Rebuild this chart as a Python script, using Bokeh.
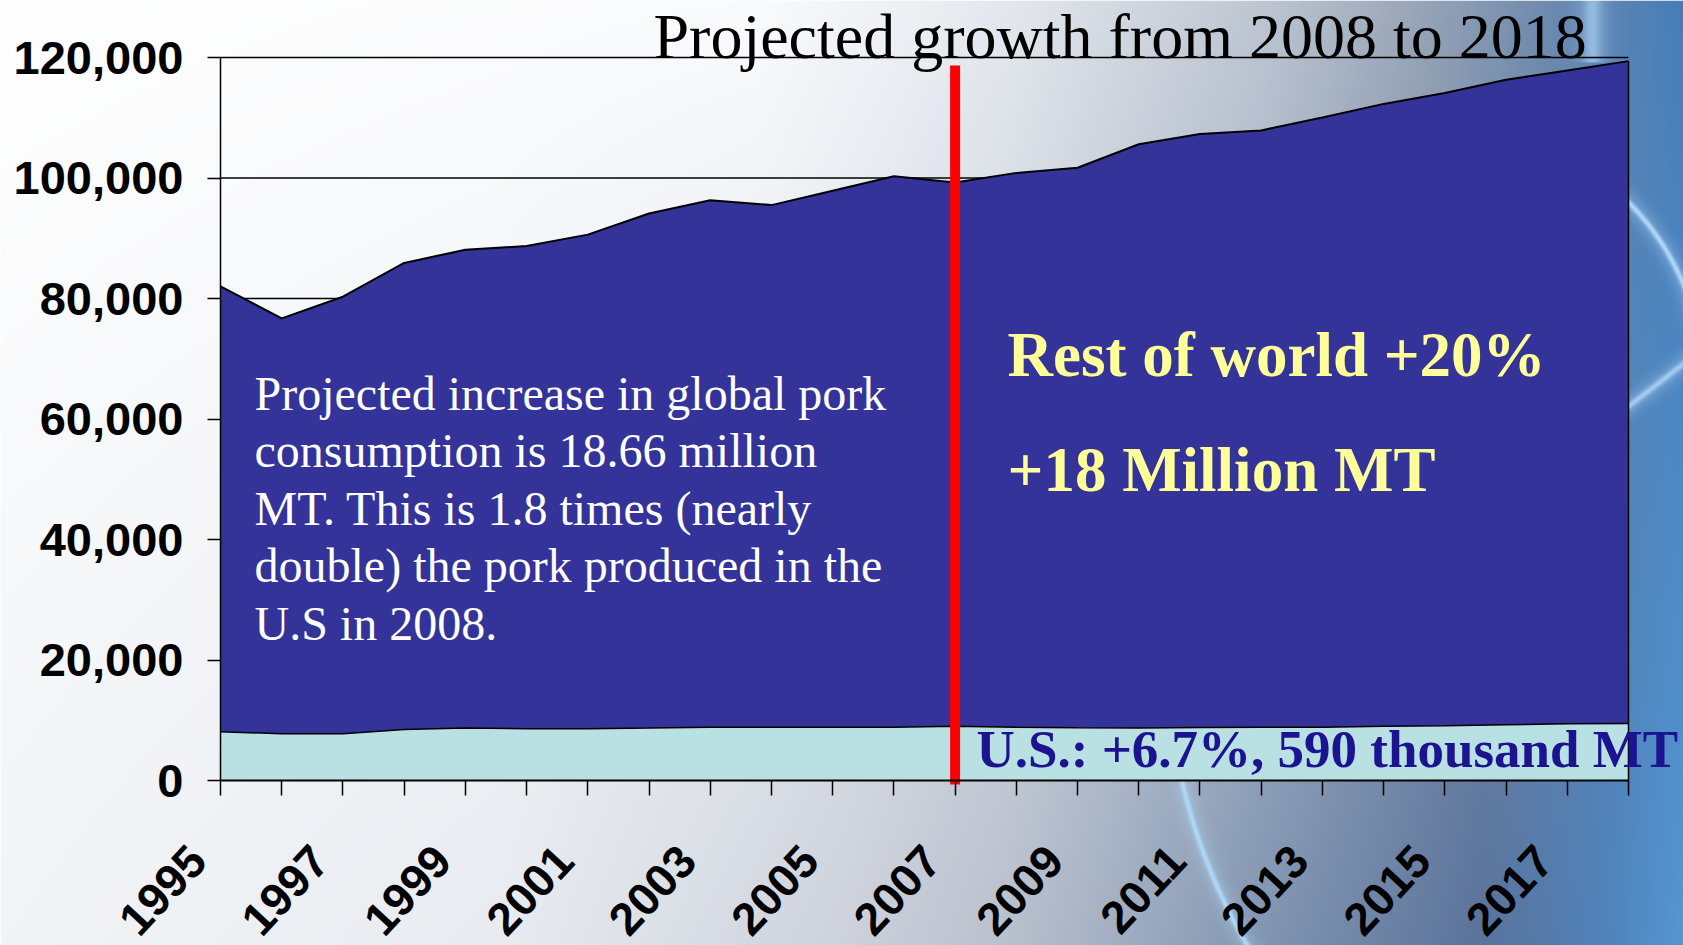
import numpy as np
from bokeh.plotting import figure
from bokeh.models import (Range1d, LinearAxis, FixedTicker, NumeralTickFormatter,
                          CustomJSTickFormatter, Label)
from bokeh.embed import file_html
from bokeh.resources import INLINE

# ---------------- data ----------------
years = [1995, 1996, 1997, 1998, 1999, 2000, 2001, 2002, 2003, 2004, 2005, 2006,
         2007, 2008, 2009, 2010, 2011, 2012, 2013, 2014, 2015, 2016, 2017, 2018]
us_pork = [8100, 7750, 7750, 8450, 8700, 8600, 8600, 8700, 8850, 8850, 8850, 8850,
           9000, 8850, 8750, 8700, 8800, 8850, 8850, 9000, 9100, 9250, 9400, 9440]
world_pork = [82000, 76700, 80300, 85900, 88100, 88700, 90600, 94100, 96300, 95500, 97900, 100300,
              99250, 100850, 101700, 105600, 107300, 107900, 110050, 112300, 114100, 116300, 117850, 119400]
y_ticks = [0, 20000, 40000, 60000, 80000, 100000, 120000]
x_label_years = [1995, 1997, 1999, 2001, 2003, 2005, 2007, 2009, 2011, 2013, 2015, 2017]
projection_year = 2007

title_text = "Projected growth from 2008 to 2018"
note_lines = ["Projected increase in global pork",
              "consumption is 18.66 million",
              "MT. This is 1.8 times (nearly",
              "double) the pork produced in the",
              "U.S in 2008."]
rest_lines = ["Rest of world +20%", "+18 Million MT"]
us_note = "U.S.: +6.7%, 590 thousand MT"

# ---------------- geometry (page pixels) ----------------
W, H = 1683, 945
OFF = 0
PX_FIRST, PX_LAST = 220.0, 1628.0
PY_ZERO, PY_MAX = 780.0, 57.0
ppx = (PX_LAST - PX_FIRST) / (years[-1] - years[0])
ppy = (PY_ZERO - PY_MAX) / y_ticks[-1]
x_start = years[0] - (PX_FIRST - OFF) / ppx
x_end = x_start + W / ppx
y_start = -((OFF + H) - PY_ZERO) / ppy
y_end = y_start + H / ppy


def DX(px):
    return x_start + (px - OFF) / ppx


def DY(py):
    return y_start + ((OFF + H) - py) / ppy


def BASE(py, size):
    # empirical baseline correction for Label text placement
    return DY(py - 0.32 * size)


p = figure(width=W, height=H, x_range=Range1d(x_start, x_end), y_range=Range1d(y_start, y_end),
           output_backend="svg", toolbar_location=None, min_border=0, tools="",
           x_axis_location=None, y_axis_location=None)
p.outline_line_color = None
p.background_fill_color = "white"
p.border_fill_color = "white"
p.grid.grid_line_color = None

# label range shifted so rotated year labels end left of their ticks
LABEL_SHIFT = 23.0 / ppx
p.extra_x_ranges = {"labels": Range1d(x_start + LABEL_SHIFT, x_end + LABEL_SHIFT)}

# ---------------- background gradient ----------------
nx, ny = 842, 473
gx = OFF + (np.arange(nx) + 0.5) * W / nx
gy = OFF + (np.arange(ny) + 0.5) * H / ny
GX, GY = np.meshgrid(gx, gy)
u = GX / 1683.0
v = GY / 945.0
top_stops = [(0.0, (255, 255, 255)), (0.45, (250, 251, 253)), (0.60, (228, 232, 238)),
             (0.75, (190, 198, 210)), (0.85, (150, 163, 182)), (0.92, (110, 138, 175)),
             (1.0, (70, 125, 185))]
bottom_stops = [(0.0, (242, 244, 247)), (0.30, (232, 235, 240)), (0.50, (205, 210, 220)),
                (0.60, (185, 192, 205)), (0.75, (130, 150, 178)), (0.88, (90, 115, 155)),
                (0.95, (80, 130, 185)), (1.0, (85, 150, 210))]


def ramp(t, stops):
    pos = [s[0] for s in stops]
    return np.stack([np.interp(t, pos, [s[1][k] for s in stops]) for k in range(3)], axis=-1)


rgb = ramp(u, top_stops) * (1 - v[..., None]) + ramp(u, bottom_stops) * v[..., None]
glow = np.array([175, 215, 248], float)


def add_glow(rgb, d, core, halo, mask, strength=0.85):
    a = (strength * np.exp(-(d / core) ** 2) + 0.3 * np.exp(-(d / halo) ** 2)) * mask
    a = np.clip(a, 0, 1)[..., None]
    return rgb * (1 - a) + glow * a


d1 = np.abs(np.hypot(GX - 1750, GY - 650) - 583)
rgb = add_glow(rgb, d1, 2.5, 10, (GY > 640))
d2 = np.abs(np.hypot(GX - 1450, GY - 380) - 252)
rgb = add_glow(rgb, d2, 2.5, 10, (GX > 1600) & (GY < 380))
d3 = np.abs((GX - 1630) * (-41) - (GY - 404) * 53) / 67.0
rgb = add_glow(rgb, d3, 3, 10, (GX > 1600), 0.6)
d4 = np.abs(GX - 1592)
rgb = add_glow(rgb, d4, 8, 16, (GY < 62), 0.35)

rgb8 = np.clip(rgb, 0, 255).astype(np.uint8)
img = np.empty((ny, nx), dtype=np.uint32)
view = img.view(dtype=np.uint8).reshape((ny, nx, 4))
view[..., :3] = rgb8
view[..., 3] = 255
img = np.ascontiguousarray(img[::-1])
p.image_rgba(image=[img], x=x_start, y=y_start, dw=x_end - x_start, dh=y_end - y_start, level="image")

# ---------------- grid lines ----------------
p.segment(x0=years[0], y0=y_ticks[1:], x1=years[-1], y1=y_ticks[1:],
          line_color="black", line_width=1.5)

# ---------------- stacked areas ----------------
p.varea(x=years, y1=0, y2=us_pork, fill_color="#b9e1e4")
p.varea(x=years, y1=us_pork, y2=world_pork, fill_color="#333399")
p.line(years, world_pork, line_color="black", line_width=2)
p.line(years, us_pork, line_color="black", line_width=1.5)
p.segment(x0=years[-1], y0=0, x1=years[-1], y1=world_pork[-1], line_color="black", line_width=1.5)

# red projection marker
p.segment(x0=projection_year, y0=DY(784), x1=projection_year, y1=DY(65),
          line_color="#ff0000", line_width=10)

# ---------------- texts ----------------
p.add_layout(Label(x=DX(653), y=BASE(56, 64), text=title_text, text_font="Liberation Serif",
                   text_font_size="64px", text_color="black", text_baseline="alphabetic",
                   text_align="left"))
for i, line in enumerate(note_lines):
    p.add_layout(Label(x=DX(254), y=BASE(408 + i * 57.5, 48), text=line, text_font="Liberation Serif",
                       text_font_size="48px", text_color="white", text_baseline="alphabetic",
                       text_align="left"))
for i, line in enumerate(rest_lines):
    p.add_layout(Label(x=DX(1007), y=BASE(375 + i * 115, 63), text=line, text_font="Liberation Serif",
                       text_font_size="63px", text_font_style="bold", text_color="#ffff99",
                       text_baseline="alphabetic", text_align="left"))
p.add_layout(Label(x=DX(976), y=BASE(765, 53), text=us_note, text_font="Liberation Serif",
                   text_font_size="53px", text_font_style="bold", text_color="#1b1390",
                   text_baseline="alphabetic", text_align="left"))

# ---------------- axes ----------------
yax = LinearAxis(fixed_location=years[0], bounds=(y_ticks[0], y_ticks[-1]),
                 ticker=FixedTicker(ticks=y_ticks), formatter=NumeralTickFormatter(format="0,0"))
yax.axis_line_color = "black"
yax.axis_line_width = 1.5
yax.major_tick_line_color = "black"
yax.major_tick_line_width = 1.5
yax.major_tick_out = 13
yax.major_tick_in = 0
yax.minor_tick_line_color = None
yax.major_label_standoff = 24
yax.major_label_text_font = "Liberation Sans"
yax.major_label_text_font_style = "bold"
yax.major_label_text_font_size = "47px"
yax.major_label_text_color = "black"
p.add_layout(yax, "left")

xax = LinearAxis(fixed_location=0, bounds=(years[0], years[-1]),
                 ticker=FixedTicker(ticks=years), formatter=CustomJSTickFormatter(code="return ''"))
xax.axis_line_color = "black"
xax.axis_line_width = 2
xax.major_tick_line_color = "black"
xax.major_tick_line_width = 1.5
xax.major_tick_out = 15
xax.major_tick_in = 0
xax.minor_tick_line_color = None
p.add_layout(xax, "below")

xlab = LinearAxis(fixed_location=0, x_range_name="labels", ticker=FixedTicker(ticks=x_label_years))
xlab.axis_line_color = None
xlab.major_tick_line_color = None
xlab.minor_tick_line_color = None
xlab.major_tick_out = 0
xlab.major_tick_in = 0
xlab.major_label_orientation = 0.82
xlab.major_label_standoff = 72
xlab.major_label_text_font = "Liberation Sans"
xlab.major_label_text_font_style = "bold"
xlab.major_label_text_font_size = "46px"
xlab.major_label_text_color = "black"
p.add_layout(xlab, "below")

open("out.html", "w").write(file_html(p, INLINE))
